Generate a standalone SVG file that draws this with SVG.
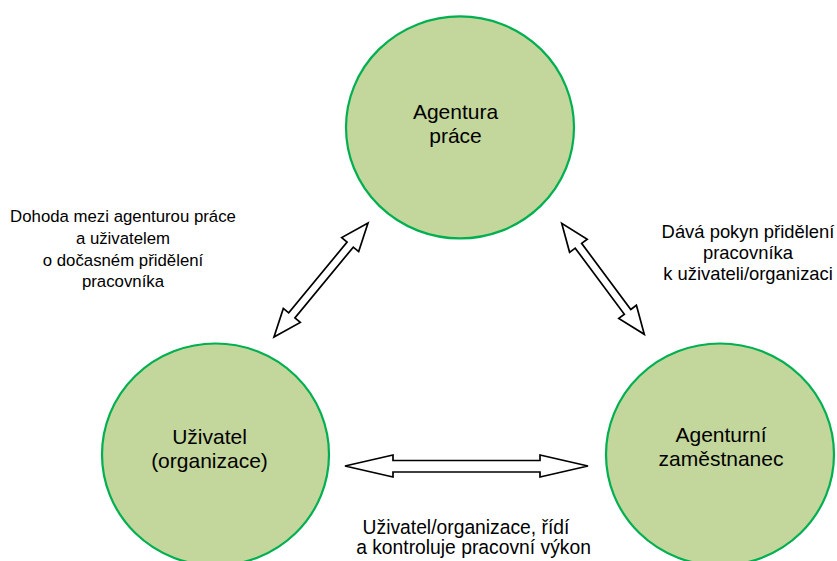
<svg xmlns="http://www.w3.org/2000/svg" width="837" height="561" viewBox="0 0 837 561">
<style>
.nt{font-family:"Liberation Sans",Arial,sans-serif;font-size:21px;fill:#000;text-anchor:middle}
.lbl{font-family:"Liberation Sans",Arial,sans-serif;font-size:18.4px;fill:#000;text-anchor:middle}
.circle{fill:#C3D69B;stroke:#00B050;stroke-width:2.2}
.arrow{fill:#fff;stroke:#000;stroke-width:1.7;stroke-linejoin:miter}
</style>
<defs>
<clipPath id="clipR"><rect x="600" y="200" width="237" height="84.5"/></clipPath>
</defs>
<rect width="837" height="561" fill="#fff"/>
<g id="agentura">
<ellipse class="circle" cx="460" cy="127.4" rx="114" ry="111"/>
<text class="nt" x="455.5" y="118.5">Agentura</text>
<text class="nt" x="455.5" y="143">práce</text>
</g>
<g id="uzivatel">
<ellipse class="circle" cx="215.5" cy="454.5" rx="113.5" ry="111"/>
<text class="nt" x="209.5" y="444">Uživatel</text>
<text class="nt" x="209.5" y="468">(organizace)</text>
</g>
<g id="zamestnanec">
<ellipse class="circle" cx="720" cy="454.5" rx="114" ry="111"/>
<text class="nt" x="721" y="441.5">Agenturní</text>
<text class="nt" x="721" y="466">zaměstnanec</text>
</g>
<g id="connectors">
<polygon class="arrow" points="274,337 300.3,322.4 294.9,317.94 353.28,247.14 358.68,251.6 368,223 341.7,237.6 347.1,242.06 288.72,312.86 283.32,308.4"/>
<polygon class="arrow" points="561.7,223.3 569.59,252.33 575.21,248.15 624.37,314.23 618.75,318.41 644.3,334.3 636.41,305.27 630.79,309.45 581.63,243.37 587.25,239.19"/>
<polygon class="arrow" points="345,466 393,455 393,460.5 540,460.5 540,455 588,466 540,477 540,472 393,472 393,477"/>
</g>
<g id="labels">
<g id="label-left" class="lbl" style="font-size:16.8px">
<text x="123" y="222">Dohoda mezi agenturou práce</text>
<text x="123" y="244">a uživatelem</text>
<text x="123" y="266">o dočasném přidělení</text>
<text x="123" y="287">pracovníka</text>
</g>
<g id="label-right" class="lbl" clip-path="url(#clipR)">
<text x="748" y="238">Dává pokyn přidělení</text>
<text x="748" y="259">pracovníka</text>
<text x="748" y="280">k uživateli/organizaci</text>
</g>
<g id="label-bottom" class="lbl" style="font-size:19.3px">
<text x="466" y="534">Uživatel/organizace, řídí</text>
<text x="473.5" y="553.5">a kontroluje pracovní výkon</text>
</g>
</g>
</svg>
